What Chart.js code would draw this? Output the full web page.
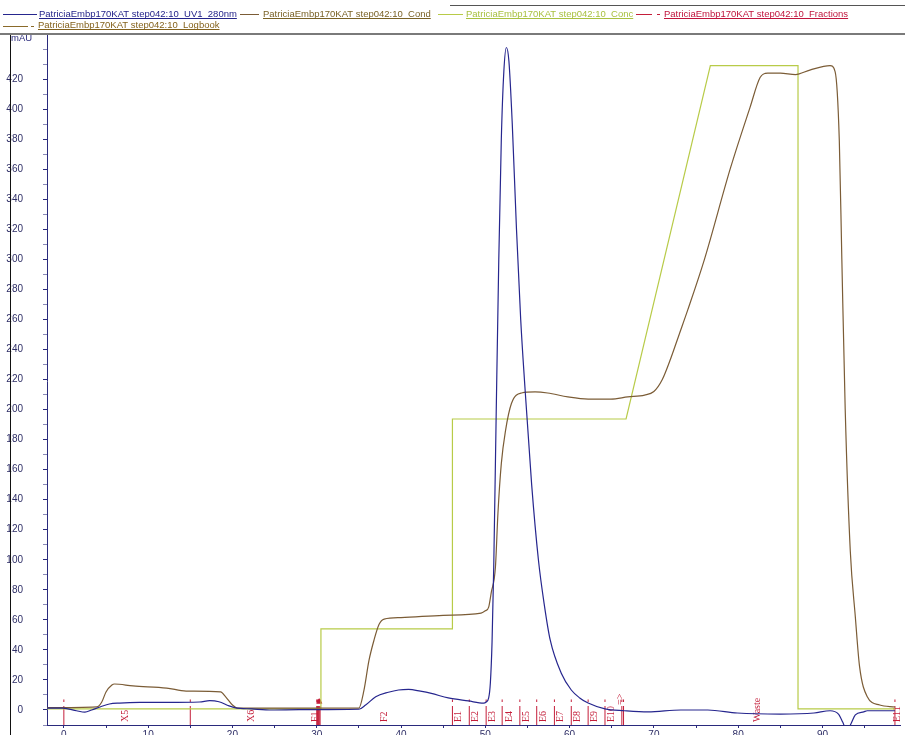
<!DOCTYPE html>
<html>
<head>
<meta charset="utf-8">
<title>PatriciaEmbp170KAT step042:10</title>
<script src="https://cdn.jsdelivr.net/npm/chart.js@4.4.1/dist/chart.umd.min.js"></script>
<style>
  html, body { margin: 0; padding: 0; background: #fff; }
  #wrap { position: relative; width: 905px; height: 735px; }
</style>
</head>
<body>
<div id="wrap"><canvas id="chromatogram"></canvas></div>
<script>
// run: PatriciaEmbp170KAT step042:10 (x = ml, y = mAU)
const runName = 'PatriciaEmbp170KAT step042:10';

const uvTime = [-2, -0.1, 1.5, 2.5, 3.3, 4.3, 5.4, 6.6, 9, 12.2, 16.1, 17.3, 18.4, 19.6, 20.4, 22.3, 24.7, 27.9, 35, 35.8,
  37, 38.5, 39.7, 40.9, 42.3, 43.6, 45.6, 48, 49.8, 50.1, 50.4, 50.6, 50.8, 51.0, 51.3, 51.6, 51.9, 52.2, 52.5, 52.8,
  53.2, 53.7, 54.2, 54.7, 55.5, 56.3, 57.0, 57.7, 59.0, 60.2, 61.2, 62.2, 64.2, 66.5, 69.3, 73.2, 76.4, 79.9, 85, 89,
  90.9, 91.9, 92.4, 92.9, 93.4, 93.9, 94.9, 95.3, 98.6];
const uvValue = [1.3, 1.3, -0.5, -1.4, 0, 2, 4, 4.6, 5, 5, 5.3, 6.2, 5.5, 2.7, 1.4, 0.7, 0, 0.2, 0.5, 3.3,
  8.8, 11.8, 13.3, 13.7, 12.5, 11, 8, 6, 4.6, 5.3, 8, 18, 45, 95, 200, 300, 380, 425, 441, 432,
  390, 320, 260, 215, 150, 100, 70, 46.6, 24.6, 13.3, 8, 4.6, 0.7, -0.5, -1.3, 0, 0, -2, -2.7, -2,
  -0.5, -2.7, -8, -14, -9, -3.3, -1.3, -0.5, -0.5];

const condTime = [-2, 3.9, 4.5, 5.0, 5.7, 6.0, 8.2, 12.2, 14.5, 18.6, 19.2, 20.0, 20.6, 25, 30, 35, 35.6, 36.2, 36.8, 37.4,
  38, 40, 45, 49.5, 50.0, 50.4, 50.7, 51.2, 51.5, 51.9, 52.4, 53.1, 54.3, 55.9, 57.4, 59.8, 62.2, 64.9, 66.9, 68.9,
  70, 71, 72, 73, 74, 76, 79.1, 81.4, 82.6, 83.5, 85, 86.8, 88.5, 90.9, 91.5, 92.0, 92.3, 92.7, 93.3, 93.9,
  94.4, 95.3, 96.8, 98.6];
const condValue = [1.5, 2, 5.3, 12, 16.6, 17.3, 16, 14.6, 12.6, 12, 8.7, 3.3, 1.3, 1.2, 1.2, 1.3, 13, 33, 46.6, 57,
  60.5, 61.5, 63, 64.5, 66, 68.5, 78, 95, 131, 164, 186, 204, 211, 211.7, 211, 208.4, 207, 207, 208.4, 209.6,
  212, 220, 234, 250, 266, 300, 361, 401, 421, 424, 424, 423, 426, 429, 425, 379, 300, 200, 106, 62,
  29, 9, 3.3, 2];

const concTime = [-2, 30.5, 30.5, 46.1, 46.1, 66.7, 76.7, 87.1, 87.1, 98.6];
const concValue = [0.7, 0.7, 54, 54, 193.7, 193.7, 429, 429, 0.7, 0.7];

const fractionTimes = [0, 15, 30.0, 30.1, 30.2, 30.3, 30.4, 46.1, 48.1, 50.1, 52.0, 54.1, 56.1, 58.2, 60.2, 62.2, 64.2, 66.2, 66.4, 98.6];
const fractionNames = ['X5', 'X6', 'F1', '', '', '', 'F2', 'E1', 'E2', 'E3', 'E4', 'E5', 'E6', 'E7', 'E8', 'E9', 'E10', '=>', 'Waste', 'E11'];
const fractionLow = -10;
const fractionHigh = 7;

const injectTime = [30.3];
const injectValue = [5.5];

const xTicks = [0, 10, 20, 30, 40, 50, 60, 70, 80, 90];
const yTicks = [0, 20, 40, 60, 80, 100, 120, 140, 160, 180, 200, 220, 240, 260, 280, 300, 320, 340, 360, 380, 400, 420];

function toPoints(xs, ys) {
  return xs.map((x, i) => ({ x: x, y: ys[i] }));
}

// every fraction mark is a short vertical segment, nulls keep them apart
function fractionPoints() {
  const pts = [];
  fractionTimes.forEach(t => {
    pts.push({ x: t, y: fractionLow });
    pts.push({ x: t, y: fractionHigh });
    pts.push({ x: t, y: null });
  });
  return pts;
}

const navy = '#2a2a7c';
const fracRed = '#c41e3a';
// the arrow label sits higher than the others
const labelLift = { '=>': 17 };

const legendLayout = [
  { ds: 0, row: 0, x0: 3, x1: 37, tx: 39, dash: false, text: '#24248a' },
  { ds: 1, row: 0, x0: 240, x1: 259, tx: 263, dash: false, text: '#7a6226' },
  { ds: 2, row: 0, x0: 438, x1: 463, tx: 466, dash: false, text: '#a9c140' },
  { ds: 3, row: 0, x0: 636, x1: 652, tx: 664, dash: true, text: '#c0143c' },
  { ds: 4, row: 1, x0: 3, x1: 28, tx: 38, dash: true, text: '#84621c' },
];

const decor = {
  id: 'decor',
  beforeDraw(chart) {
    const ctx = chart.ctx;
    ctx.save();
    ctx.fillStyle = '#fff';
    ctx.fillRect(0, 0, chart.width, chart.height);
    ctx.restore();
  },
  beforeDatasetsDraw(chart) {
    // fraction names, rotated, between the marks
    const ctx = chart.ctx;
    const xs = chart.scales.x;
    ctx.save();
    ctx.fillStyle = fracRed;
    ctx.font = '10px "Liberation Serif", "Times New Roman", serif';
    ctx.textAlign = 'left';
    ctx.textBaseline = 'middle';
    fractionNames.forEach((name, i) => {
      if (!name) return;
      const a = fractionTimes[i];
      const b = i + 1 < fractionTimes.length ? fractionTimes[i + 1] : a + 1;
      const px = (xs.getPixelForValue(a) + xs.getPixelForValue(b)) / 2 - 2;
      ctx.save();
      ctx.translate(px, chart.chartArea.bottom - 3 - (labelLift[name] || 0));
      ctx.rotate(-Math.PI / 2);
      ctx.fillText(name, 0, 0);
      ctx.restore();
    });
    ctx.restore();
  },
  afterDraw(chart) {
    const ctx = chart.ctx;
    ctx.save();
    // frame lines
    ctx.strokeStyle = '#7a7a7a';
    ctx.lineWidth = 2;
    ctx.beginPath();
    ctx.moveTo(0, 34);
    ctx.lineTo(chart.width, 34);
    ctx.stroke();
    ctx.lineWidth = 1;
    ctx.strokeStyle = '#555';
    ctx.beginPath();
    ctx.moveTo(450, 5.5);
    ctx.lineTo(chart.width, 5.5);
    ctx.stroke();
    ctx.strokeStyle = '#111';
    ctx.beginPath();
    ctx.moveTo(10.5, 35);
    ctx.lineTo(10.5, chart.height);
    ctx.stroke();
    ctx.strokeStyle = navy;
    ctx.beginPath();
    ctx.moveTo(chart.chartArea.left + 0.5, 35);
    ctx.lineTo(chart.chartArea.left + 0.5, chart.chartArea.top);
    ctx.stroke();

    // unit
    ctx.fillStyle = navy;
    ctx.font = '9.5px "Liberation Sans", Arial, sans-serif';
    ctx.textBaseline = 'top';
    ctx.fillText('mAU', 11, 34);

    // legend with underlined names
    ctx.textBaseline = 'alphabetic';
    legendLayout.forEach(item => {
      const ds = chart.data.datasets[item.ds];
      const ly = item.row === 0 ? 14.5 : 26.5;
      const ty = item.row === 0 ? 17 : 28;
      ctx.strokeStyle = ds.legendColor || ds.borderColor;
      ctx.lineWidth = 1;
      ctx.beginPath();
      ctx.moveTo(item.x0, ly);
      ctx.lineTo(item.x1, ly);
      if (item.dash) {
        ctx.moveTo(item.tx - 7, ly);
        ctx.lineTo(item.tx - 4, ly);
      }
      ctx.stroke();
      ctx.fillStyle = item.text;
      ctx.fillText(ds.label, item.tx, ty);
      const w = ctx.measureText(ds.label).width;
      ctx.strokeStyle = item.text;
      ctx.beginPath();
      ctx.moveTo(item.tx, ty + 1.5);
      ctx.lineTo(item.tx + w, ty + 1.5);
      ctx.stroke();
    });
    ctx.restore();
  }
};

const ctx = document.getElementById('chromatogram');

new Chart(ctx, {
  type: 'line',
  data: {
    datasets: [
      {
        label: runName + '_UV1_280nm',
        data: toPoints(uvTime, uvValue),
        borderColor: '#26268e',
        borderWidth: 1.2,
        pointRadius: 0,
        cubicInterpolationMode: 'monotone',
        order: 0,
      },
      {
        label: runName + '_Cond',
        data: toPoints(condTime, condValue),
        borderColor: '#7b5c36',
        borderWidth: 1.2,
        pointRadius: 0,
        cubicInterpolationMode: 'monotone',
        order: 1,
      },
      {
        label: runName + '_Conc',
        data: toPoints(concTime, concValue),
        borderColor: '#b8cb48',
        borderWidth: 1.2,
        pointRadius: 0,
        tension: 0,
        order: 2,
      },
      {
        label: runName + '_Fractions',
        data: fractionPoints(),
        borderColor: fracRed,
        borderWidth: 1,
        borderDash: [19, 4, 3, 60],
        pointRadius: 0,
        spanGaps: false,
        tension: 0,
        order: 3,
      },
      {
        label: runName + '_Logbook',
        data: toPoints(injectTime, injectValue),
        borderColor: fracRed,
        legendColor: '#8a6a2a',
        backgroundColor: fracRed,
        showLine: false,
        pointStyle: 'triangle',
        pointRadius: 3,
        order: 4,
      },
    ]
  },
  options: {
    responsive: true,
    maintainAspectRatio: false,
    devicePixelRatio: 1,
    animation: false,
    events: [],
    layout: { padding: { left: 0, right: 2, top: 37, bottom: 0 } },
    plugins: {
      legend: { display: false },
      tooltip: { enabled: false },
    },
    scales: {
      x: {
        type: 'linear',
        min: -2,
        max: 99.2,
        afterFit(scale) {
          scale.height = 10;
          scale.paddingLeft = 0;
          scale.paddingRight = 0;
        },
        ticks: {
          stepSize: 5,
          includeBounds: false,
          autoSkip: false,
          maxRotation: 0,
          padding: 1,
          color: '#2e2e66',
          font: { family: '"Liberation Sans", Arial, sans-serif', size: 10 },
          callback: v => xTicks.includes(v) ? String(v) : '',
        },
        grid: {
          drawOnChartArea: false,
          tickLength: 3,
          tickColor: navy,
        },
        border: { color: navy, width: 1 },
      },
      y: {
        type: 'linear',
        min: -10,
        max: 448,
        afterFit(scale) {
          // fixed gutter; the big label padding must not eat the bottom
          scale.width = 47;
          scale.paddingTop = 0;
          scale.paddingBottom = 0;
        },
        ticks: {
          stepSize: 10,
          includeBounds: false,
          autoSkip: false,
          padding: 20,
          color: '#2e2e66',
          font: { family: '"Liberation Sans", Arial, sans-serif', size: 10 },
          callback: v => yTicks.includes(v) ? String(v) : '',
        },
        grid: {
          drawOnChartArea: false,
          tickLength: 4,
          tickColor: c => (c.tick && yTicks.includes(c.tick.value)) ? navy : '#8a8ab8',
        },
        border: { color: navy, width: 1 },
      }
    }
  },
  plugins: [decor]
});
</script>
</body>
</html>
